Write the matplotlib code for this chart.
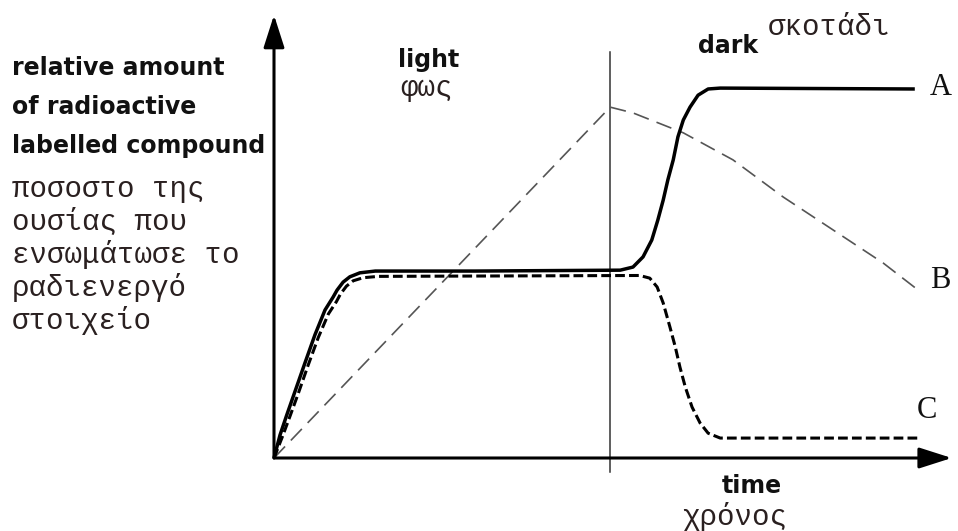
import matplotlib
matplotlib.use("Agg")
import matplotlib.pyplot as plt

plt.rcParams['lines.scale_dashes'] = False

# curve A: solid, rises again in the dark
time_A = [0, 0.09, 0.19, 0.31, 0.46, 0.61, 0.76, 0.88, 0.94, 1.03, 1.13, 1.28, 1.51,
          3.0, 5.16, 5.35, 5.50, 5.63, 5.72, 5.80, 5.87, 5.95, 6.02, 6.10, 6.20,
          6.32, 6.47, 6.65, 9.55]
amount_A = [0, 0.52, 0.97, 1.49, 2.14, 2.78, 3.34, 3.63, 3.79, 3.97, 4.09, 4.18, 4.22,
            4.22, 4.24, 4.31, 4.54, 4.92, 5.37, 5.82, 6.28, 6.73, 7.25, 7.63, 7.92,
            8.19, 8.33, 8.35, 8.33]

# curve B: thin dashed, linear in light, falls in the dark
time_B = [0, 5.01, 5.35, 6.10, 6.84, 7.59, 8.33, 9.08, 9.60]
amount_B = [0, 7.92, 7.79, 7.34, 6.73, 5.89, 5.15, 4.40, 3.79]

# curve C: thick dashed, drops in the dark
time_C = [0, 0.13, 0.24, 0.36, 0.51, 0.66, 0.81, 0.93, 0.99, 1.08, 1.18, 1.33, 1.56,
          5.45, 5.60, 5.71, 5.80, 5.90, 5.98, 6.05, 6.13, 6.23, 6.35, 6.47, 6.65, 9.60]
amount_C = [0, 0.50, 0.95, 1.45, 2.10, 2.72, 3.25, 3.53, 3.70, 3.88, 4.00, 4.07, 4.10,
            4.12, 4.06, 3.86, 3.50, 2.96, 2.51, 2.05, 1.60, 1.15, 0.79, 0.56, 0.45, 0.45]

light_dark_split = 5.0

W, H = 958, 531
fig = plt.figure(figsize=(W / 100, H / 100), dpi=100)
ax = fig.add_axes([274 / W, 73 / H, 671 / W, 443 / H])
ax.set_xlim(0, 10)
ax.set_ylim(0, 10)
ax.axis('off')


def px(x, y):
    return x / W, 1 - y / H


# axes with arrows
arrow = dict(arrowstyle='-|>,head_length=1.0,head_width=0.32', mutation_scale=20,
             lw=2.2, color='black', shrinkA=0, shrinkB=0)
ax.annotate('', xy=(10.1, 0), xytext=(0, 0), arrowprops=arrow, annotation_clip=False)
ax.annotate('', xy=(0, 10), xytext=(0, 0), arrowprops=arrow, annotation_clip=False)

# light / dark divider
ax.plot([light_dark_split, light_dark_split], [-0.32, 9.16], color='#333333', lw=1.1,
        clip_on=False)

ax.plot(time_B, amount_B, color='#555555', lw=1.2, dashes=(11.5, 6), zorder=2, clip_on=False)
ax.plot(time_C, amount_C, color='black', lw=2.2, dashes=(7, 3), zorder=3, clip_on=False)
ax.plot(time_A, amount_A, color='black', lw=2.5, zorder=4, solid_capstyle='butt',
        solid_joinstyle='round', clip_on=False)

serif = dict(family='Liberation Serif', fontsize=22, color='#111111', va='baseline')
fig.text(*px(930, 95), 'A', **serif)
fig.text(*px(930, 288), 'B', **serif)
fig.text(*px(917, 418), 'C', **serif)

bold = dict(family='DejaVu Sans', fontweight='bold', fontsize=17, color='#111111',
            va='baseline')
greek = dict(family='Liberation Mono', fontsize=21, color='#2a2020', va='baseline')

fig.text(*px(12, 75), 'relative amount', **bold)
fig.text(*px(12, 114), 'of radioactive', **bold)
fig.text(*px(12, 153), 'labelled compound', **bold)

greek_lines = ['ποσοστο της', 'ουσίας που', 'ενσωμάτωσε το', 'ραδιενεργό', 'στοιχείο']
for i, line in enumerate(greek_lines):
    fig.text(*px(12, 197 + 33 * i), line, **greek)

fig.text(*px(398, 67), 'light', **bold)
fig.text(*px(400, 96), 'φως', **greek)
fig.text(*px(698, 53), 'dark', **bold)
fig.text(*px(768, 35), 'σκοτάδι', **greek)
fig.text(*px(722, 493), 'time', **bold)
fig.text(*px(682, 525), 'χρόνος', **greek)

fig.savefig('out.png', dpi=100, facecolor='white')
